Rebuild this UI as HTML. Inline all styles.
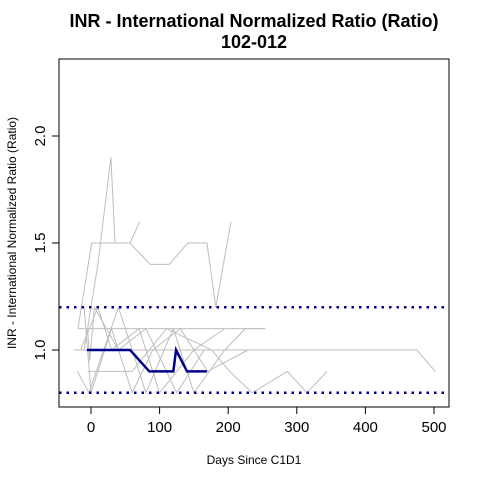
<!DOCTYPE html>
<html><head><meta charset="utf-8"><style>
body{margin:0;background:#fff;}
svg{display:block;font-family:"Liberation Sans",Arial,sans-serif;}
</style></head><body>
<svg id="chart" width="480" height="480">
<text x="254" y="27" text-anchor="middle" font-size="18" font-weight="bold">INR - International Normalized Ratio (Ratio)</text>
<text x="254" y="48" text-anchor="middle" font-size="18" font-weight="bold">102-012</text>
<rect x="59" y="59" width="390" height="348" fill="none" stroke="#000"/>
<text x="254" y="464" text-anchor="middle" font-size="12">Days Since C1D1</text>
<text transform="translate(16,233) rotate(-90)" text-anchor="middle" font-size="12">INR - International Normalized Ratio (Ratio)</text>
<g id="gray"></g>
<g id="refs"></g>
<g id="main"></g>
<g id="axes"></g>
</svg>
<script>
const xTicks=[0,100,200,300,400,500];
const yTicks=[1.0,1.5,2.0];
const refValues=[0.8,1.2];
const subjDays=[-6,57,85,120,124,140,169];
const subjValues=[1.0,1.0,0.9,0.9,1.0,0.9,0.9];
const g1Days=[-19,1,57,86,114,141,169,182,204];
const g1Vals=[1.1,1.5,1.5,1.4,1.4,1.5,1.5,1.2,1.6];
const g2Days=[-10,10,29,35,57,71];
const g2Vals=[1.0,1.4,1.9,1.5,1.5,1.6];
const g3Days=[-19,30,100,195,254];
const g3Vals=[1.1,1.1,1.1,1.1,1.1];
const g4Days=[-25,100,200,300,400,475,502];
const g4Vals=[1.0,1.0,1.0,1.0,1.0,1.0,0.9];
const g5Days=[-5,20,60,110,176,202,235,286,315,344];
const g5Vals=[0.9,0.9,0.9,1.1,1.0,0.9,0.8,0.9,0.8,0.9];
const g6Days=[-20,-3,40,80,120,150,195,225,254];
const g6Vals=[0.9,0.8,1.2,0.8,1.1,0.8,1.0,1.1,1.1];
const g7Days=[-10,0,30,60,90,130,170,229];
const g7Vals=[1.2,0.8,1.1,0.8,1.0,1.1,0.9,1.0];
const g8Days=[-15,10,30,70,100,150,195];
const g8Vals=[1.0,1.2,1.0,1.1,0.8,1.0,1.1];
const g9Days=[-5,-2,5,40,80,125,165];
const g9Vals=[1.1,0.95,1.2,1.0,1.1,0.8,1.0];
const grays=[[g1Days,g1Vals],[g2Days,g2Vals],[g3Days,g3Vals],[g4Days,g4Vals],[g5Days,g5Vals],[g6Days,g6Vals],[g7Days,g7Vals],[g8Days,g8Vals],[g9Days,g9Vals]];
const NS='http://www.w3.org/2000/svg';
function xs(d){return 91+d*0.686;}
function ys(v){return 350-(v-1)*214;}
function mk(tag,attrs,parent){const e=document.createElementNS(NS,tag);for(const k in attrs)e.setAttribute(k,attrs[k]);parent.appendChild(e);return e;}
const gray=document.getElementById('gray');
grays.forEach((s,i)=>{
  const p=mk('polyline',{points:s[0].map((d,j)=>xs(d)+','+ys(s[1][j])).join(' '),fill:'none',stroke:'#bebebe','stroke-width':1},gray);
  
  
});
const refs=document.getElementById('refs');
refValues.forEach(v=>{
  const l=mk('line',{x1:59,x2:449,y1:ys(v),y2:ys(v),stroke:'#00008b','stroke-width':2.5,'stroke-dasharray':'2.5 5'},refs);
  
  
});
const main=document.getElementById('main');
const mp=mk('polyline',{points:subjDays.map((d,j)=>xs(d)+','+ys(subjValues[j])).join(' '),fill:'none',stroke:'#00008b','stroke-width':2.5},main);


const axes=document.getElementById('axes');
xTicks.forEach(t=>{
  const l=mk('line',{x1:xs(t),x2:xs(t),y1:407,y2:414,stroke:'#000'},axes);
  
  
  const tx=mk('text',{x:xs(t),y:432,'text-anchor':'middle','font-size':15},axes);
  tx.textContent=t;
  
  
});
yTicks.forEach(t=>{
  const l=mk('line',{x1:52,x2:59,y1:ys(t),y2:ys(t),stroke:'#000'},axes);
  
  
  const tx=mk('text',{transform:'translate(45,'+ys(t)+') rotate(-90)','text-anchor':'middle','font-size':15},axes);
  tx.textContent=t.toFixed(1);
  
  
});
</script>
</body></html>
